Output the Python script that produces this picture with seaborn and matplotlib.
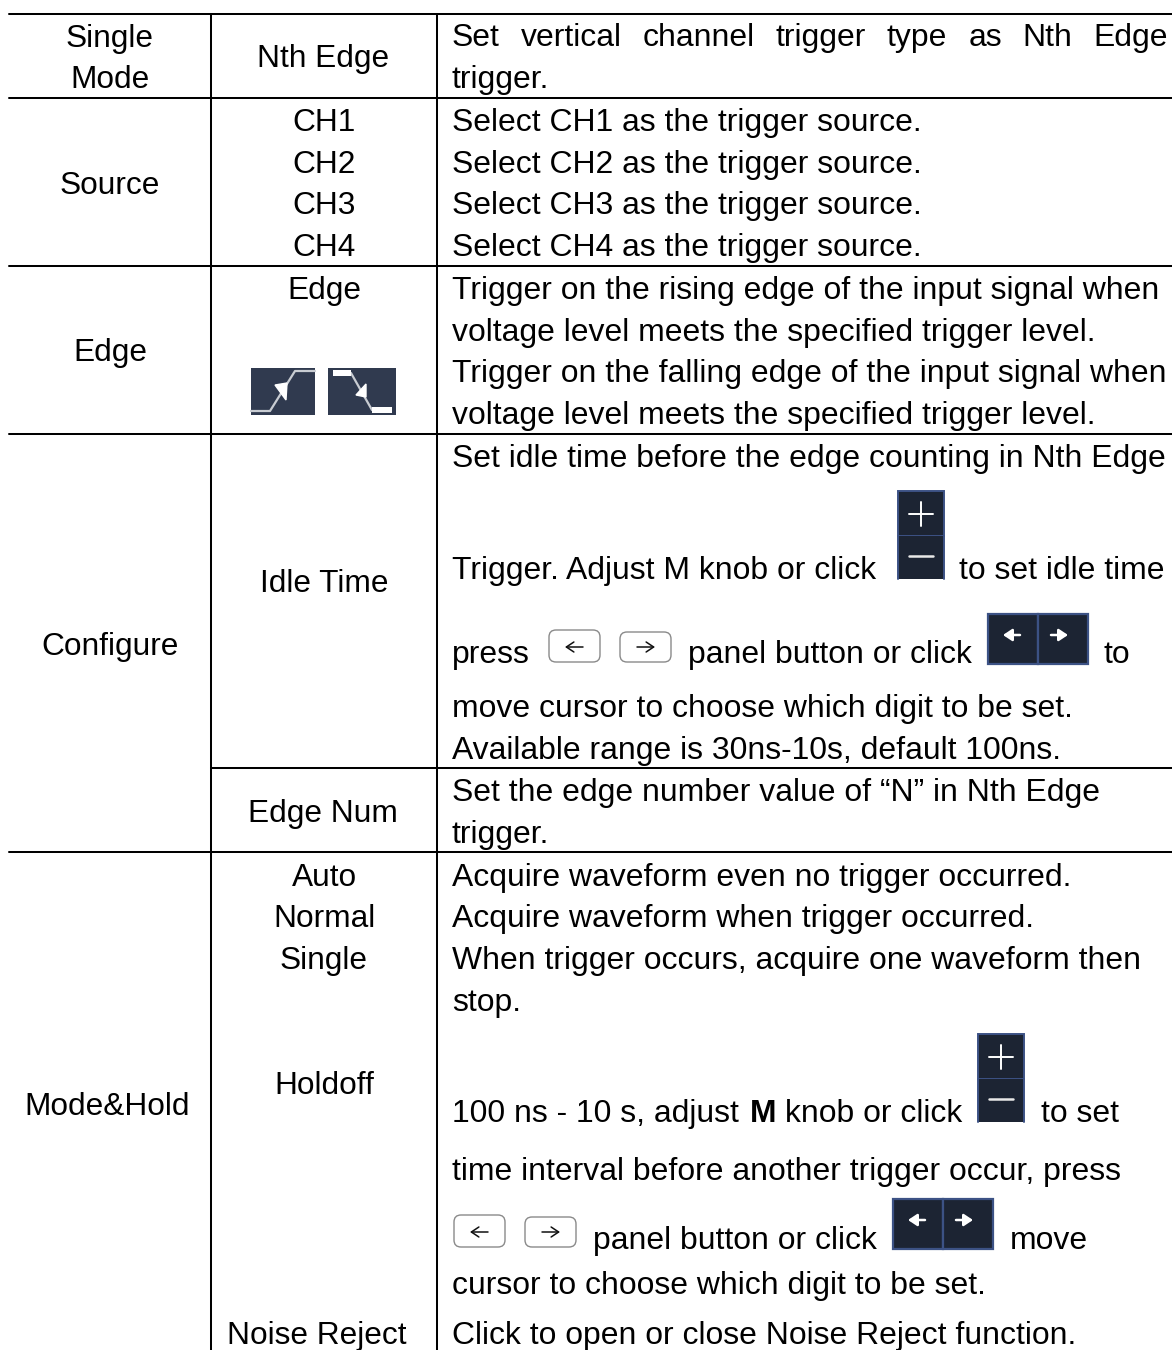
import matplotlib
matplotlib.use("Agg")
import matplotlib.pyplot as plt
from matplotlib.patches import Rectangle, FancyBboxPatch
import pandas as pd
import seaborn as sns

sns.set_theme(style="white")
plt.rcParams['font.family'] = ['Liberation Sans', 'DejaVu Sans']

# table text
col1_labels = ["Single", "Mode", "Source", "Edge", "Configure", "Mode&Hold"]
col2_labels = ["Nth Edge", "CH1", "CH2", "CH3", "CH4", "Edge", "Idle Time", "Edge Num",
               "Auto", "Normal", "Single", "Holdoff", "Noise Reject"]
col3_labels = ["trigger.",
               "Select CH1 as the trigger source.", "Select CH2 as the trigger source.",
               "Select CH3 as the trigger source.", "Select CH4 as the trigger source.",
               "Trigger on the rising edge of the input signal when",
               "voltage level meets the specified trigger level.",
               "Trigger on the falling edge of the input signal when",
               "voltage level meets the specified trigger level.",
               "Set idle time before the edge counting in Nth Edge",
               "move cursor to choose which digit to be set.",
               "Available range is 30ns-10s, default 100ns.",
               "Set the edge number value of \u201cN\u201d in Nth Edge",
               "trigger.",
               "Acquire waveform even no trigger occurred.",
               "Acquire waveform when trigger occurred.",
               "When trigger occurs, acquire one waveform then",
               "stop.",
               "time interval before another trigger occur, press",
               "cursor to choose which digit to be set.",
               "Click to open or close Noise Reject function."]
justified_words = ["Set", "vertical", "channel", "trigger", "type", "as", "Nth", "Edge"]
inline_labels = ["Trigger. Adjust M knob or click", "to set idle time", "press",
                 "panel button or click", "to", "100 ns - 10 s, adjust", "knob or click",
                 "to set", "panel button or click", "move"]
bold_label = "M"

# layout, in pixels of the 1172x1350 page
col1_x = [110, 110, 110, 110, 110, 107]
col1_y = [36, 77, 183, 350, 644, 1104]
col2_x = [323, 324, 324, 324, 324, 324, 324, 323, 324, 324, 324, 324, 316.5]
col2_y = [56, 120, 162, 203, 245, 288, 581, 811, 875, 916, 958, 1083, 1333]
col3_y = [77, 120, 162, 203, 245, 288, 330, 371, 413, 456, 706, 748, 790, 832,
          875, 916, 958, 1000, 1169, 1283, 1333]
inline_x = [452, 959, 452, 688, 1103, 452, 785, 1041, 593, 1010]
inline_y = [568, 568, 652, 652, 652, 1111, 1111, 1111, 1238, 1238]
rule_h = [(9, 1172, 14), (9, 1172, 98), (9, 1172, 266), (9, 1172, 434),
          (211, 1172, 768), (9, 1172, 852)]
rule_v = [(211, 14, 1350), (437, 14, 1350)]

W, H = 1172, 1350
FS = 31.9 * 0.72
FS_SIDE = 31.7 * 0.72
BASE = 11
INK = "#000000"

fig = plt.figure(figsize=(W / 100, H / 100), dpi=100, facecolor="white")
ax = fig.add_axes([0, 0, 1, 1])

# table rules through seaborn
rows = []
for i, (x0, x1, y) in enumerate(rule_h):
    rows += [dict(x=x0, y=y, u=f"h{i}", o=0), dict(x=x1, y=y, u=f"h{i}", o=1)]
for i, (x, y0, y1) in enumerate(rule_v):
    rows += [dict(x=x, y=y0, u=f"v{i}", o=0), dict(x=x, y=y1, u=f"v{i}", o=1)]
rules = pd.DataFrame(rows)
sns.lineplot(data=rules, x="x", y="y", units="u", estimator=None, sort=False,
             color="black", linewidth=1.45, ax=ax, legend=False)
ax.set_xlim(0, W)
ax.set_ylim(H, 0)
ax.axis("off")

def put(x, y, s, ha="left", fs=FS, **kw):
    return ax.text(x, y + BASE, s, ha=ha, va="baseline", fontsize=fs, color=INK, **kw)

for s, x, y in zip(col1_labels, col1_x, col1_y):
    put(x, y, s, ha="center", fs=FS_SIDE)
for s, x, y in zip(col2_labels, col2_x, col2_y):
    put(x, y, s, ha="center", fs=FS_SIDE)
for s, y in zip(col3_labels, col3_y):
    put(452, y, s)
for s, x, y in zip(inline_labels, inline_x, inline_y):
    put(x, y, s)
put(750, 1111, bold_label, fontweight="bold")

# justified first line
fig.canvas.draw()
rend = fig.canvas.get_renderer()
tmp = [put(0, 35, w) for w in justified_words]
widths = [t.get_window_extent(rend).width for t in tmp]
gap = (1168 - 452 - sum(widths)) / (len(tmp) - 1)
cx = 452
for t, w in zip(tmp, widths):
    t.set_x(cx)
    cx += w + gap

DARK = "#1c2433"
EDGE = "#3c5285"

def plus_minus(x0, x1, y0, ym, y1):
    ax.add_patch(Rectangle((x0, y0), x1 - x0, ym - y0, fc=DARK, ec=EDGE, lw=1.4, zorder=3))
    ax.add_patch(Rectangle((x0, ym), x1 - x0, y1 - ym, fc=DARK, ec="none", zorder=3))
    ax.plot([x0, x0], [ym, y1], color=EDGE, lw=1.4, zorder=3)
    ax.plot([x1, x1], [ym, y1], color=EDGE, lw=1.4, zorder=3)
    cx, cy = (x0 + x1) / 2, (y0 + ym) / 2
    ax.plot([cx - 12, cx + 12], [cy, cy], color="white", lw=1.4, zorder=4)
    ax.plot([cx, cx], [cy - 12, cy + 12], color="white", lw=1.4, zorder=4)
    cy = ym + 20
    ax.plot([cx - 12, cx + 12], [cy, cy], color="#e8e8e8", lw=1.8, zorder=4)

def arrow(x0, x1, y, color, style, lw=1.4, ms=18):
    ax.annotate("", xy=(x1, y), xytext=(x0, y), zorder=5,
                arrowprops=dict(arrowstyle=style, color=color,
                                lw=lw, shrinkA=0, shrinkB=0, mutation_scale=ms))

def arrow_pair(x0, xm, x1, y0, y1):
    for a, b in ((x0, xm), (xm, x1)):
        ax.add_patch(Rectangle((a, y0), b - a, y1 - y0, fc=DARK, ec=EDGE, lw=1.6, zorder=3))
    cy = y0 + 21
    filled = "-|>,head_width=0.2,head_length=0.3"
    arrow(x0 + 32, x0 + 15, cy, "white", filled, lw=1.8)
    arrow(xm + 13, xm + 30, cy, "white", filled, lw=1.8)

def buttons(xl, xr, y0, y1):
    w = 51
    for x, yy in ((xl, y0), (xr, y0 + 2)):
        ax.add_patch(FancyBboxPatch((x + 5, yy + 5), w - 10, y1 - yy - 10,
                                    boxstyle="round,pad=5,rounding_size=7",
                                    fc="white", ec="#8a8a8a", lw=1.0, zorder=3))
    cy = (y0 + y1) / 2 + 1
    opened = "->,head_width=0.2,head_length=0.3"
    arrow(xl + 34, xl + 16, cy, "#111111", opened, lw=1.1)
    arrow(xr + 17, xr + 35, cy, "#111111", opened, lw=1.1)

plus_minus(898, 944, 491, 536, 579)
arrow_pair(988, 1038, 1088, 614, 664)
buttons(549, 620, 630, 662)
plus_minus(978, 1024, 1034, 1079, 1122)
arrow_pair(893, 943, 993, 1199, 1249)
buttons(454, 525, 1215, 1247)

# edge icons
ICON = "#303a4f"
LINE = "#c8ccd2"
ax.add_patch(Rectangle((251, 368), 64, 47, fc=ICON, ec="none", zorder=3))
ax.plot([251, 270, 295, 315], [411, 411, 371, 371], color=LINE, lw=1.6, zorder=4)
ax.fill([275, 287, 286], [385, 383, 400], color="white", zorder=5)
ax.add_patch(Rectangle((328, 368), 68, 47, fc=ICON, ec="none", zorder=3))
ax.plot([351, 372], [373, 410], color=LINE, lw=1.6, zorder=4)
ax.add_patch(Rectangle((333, 370), 18, 6, fc="white", ec="none", zorder=5))
ax.add_patch(Rectangle((372, 407), 20, 6, fc="white", ec="none", zorder=5))
ax.fill([366, 356, 366], [384, 395, 397], color="white", zorder=5)

fig.savefig("out.png", dpi=100, facecolor="white")
